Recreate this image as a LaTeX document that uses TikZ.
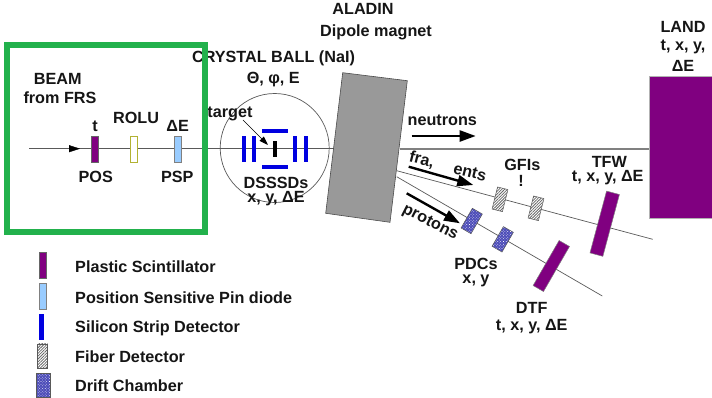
\documentclass[tikz,border=0pt]{standalone}
\usepackage{fontspec}
\setmainfont{Liberation Sans}
\usetikzlibrary{arrows.meta,patterns.meta}
\definecolor{plum}{HTML}{800080}
\definecolor{frameg}{HTML}{22B14C}
\definecolor{pspblue}{HTML}{99CCFF}
\definecolor{sidet}{HTML}{0000E0}
\definecolor{inkc}{HTML}{151515}
\tikzset{
  x=1pt,y=-1pt,
  lbl/.style={inner sep=0,font=\fontsize{16.2}{18}\selectfont\bfseries,text=inkc},
  legendlbl/.style={lbl,anchor=west},
  box/.style={inner sep=0,outer sep=0,minimum width=#1},
  box/.default=7pt,
  plastic/.style={draw=black!60,fill=plum,line width=.7pt},
  pspdet/.style={draw=black!50,fill=pspblue,line width=.7pt},
  sidetector/.style={fill=sidet,draw=none},
  fiber/.style={draw=black!65,line width=.5pt,preaction={fill=white},pattern={Lines[angle=45,distance=2pt,line width=.8pt]},pattern color=black!60},
  drift/.style={draw=black!65,line width=.5pt,preaction={fill=blue!60!black!70},pattern={Dots[angle=45,distance=2pt,radius=.45pt]},pattern color=white},
  ray/.style={draw=black!65,line width=.7pt},
  bigarrow/.style={line width=2.4pt,black,-{Triangle[length=16pt,width=11pt]}},
}
\begin{document}
\begin{tikzpicture}
\useasboundingbox (0,0) rectangle (712,397);
% coordinates
\coordinate (bs) at (29,148.7);
\coordinate (ba) at (80,148.7);
\coordinate (me) at (372,148.7);
\coordinate (ne) at (400,149);
\coordinate (fs) at (396.7,170.7);
\coordinate (fe) at (652.7,239.3);
\coordinate (ps) at (396.7,176.7);
\coordinate (pe) at (602.3,296);
\coordinate (bm) at (70,148.7);
% lines
\draw[ray] (bs) -- (me);
\draw[black,-{Triangle[length=11pt,width=7pt]}] (bm) -- (ba);
\node[draw=black!65,line width=.7pt,circle,minimum size=109pt,inner sep=0] (ball) at (274.7,148) {};
\draw[ray] (fs) -- (fe);
\draw[ray] (ps) -- (pe);
% magnet
\filldraw[fill=black!40,draw=black!70,line width=.6pt] (342.7,72.7) -- (407.3,80.7) -- (390,222.3) -- (325.7,213.3) -- cycle;
% LAND
\node[inner sep=0,outer sep=0,minimum width=63pt,minimum height=141.6pt,fill=plum,draw=black!30,line width=.5pt,anchor=north west] (land) at (649.3,76.7) {};
\draw[draw=black!50,line width=1.4pt] (ne) -- (land.west |- ne);
% beam detectors
\node[box,minimum height=26pt,plastic] (pos) at (95,149) {};
\node[box,minimum height=26pt,draw={rgb,1:red,.7;green,.7;blue,.2},fill=white,line width=.8pt] (rolu) at (133.5,149) {};
\node[box,minimum height=26pt,pspdet] (psp) at (177.7,149) {};
% silicon
\node[box=4pt,minimum height=26pt,sidetector] (s1) at (243.5,149) {};
\node[box=4pt,minimum height=26pt,sidetector] (s2) at (253.5,149) {};
\node[box=4pt,minimum height=26pt,sidetector] (s3) at (295,149) {};
\node[box=4pt,minimum height=26pt,sidetector] (s4) at (305.5,149) {};
\node[box=26pt,minimum height=4.3pt,sidetector] (s5) at (274.5,130.8) {};
\node[box=26pt,minimum height=4.3pt,sidetector] (s6) at (274.5,166.8) {};
\node[box=4pt,minimum height=16pt,fill=black] (tgt) at (274.5,149) {};
% rotated detectors
\node[box=10.7pt,minimum height=22.7pt,fiber,rotate=-14] (g1) at (500,199.3) {};
\node[box=10.7pt,minimum height=22.7pt,fiber,rotate=-14] (g2) at (536,208.3) {};
\node[box=11.5pt,minimum height=22.7pt,drift,rotate=-30] (d1) at (471.7,221) {};
\node[box=11.5pt,minimum height=22.7pt,drift,rotate=-30] (d2) at (502.7,239.3) {};
\node[box=13.3pt,minimum height=64pt,fill=plum,draw=black!50,line width=.5pt,rotate=-15] (tfw) at (604.7,223.7) {};
\node[box=12pt,minimum height=52pt,fill=plum,draw=black!50,line width=.5pt,rotate=-30] (dtf) at (551.3,266) {};
% arrows
\coordinate (na) at (411.7,136); \coordinate (nb) at (475.7,136);
\coordinate (fa) at (408.7,166.7); \coordinate (fb) at (473.3,185);
\coordinate (pa) at (406.7,193.3); \coordinate (pb) at (460,223.3);
\draw[bigarrow] (na) -- (nb);
\draw[bigarrow] (fa) -- (fb);
\draw[bigarrow] (pa) -- (pb);
% labels
\node[lbl] (l1) at (57.7,79) {BEAM};
\node[lbl] (l2) at (60,97.3) {from FRS};
\node[lbl] (l3) at (95,126) {t};
\node[lbl] (l4) at (136,118.3) {ROLU};
\node[lbl] (l5) at (177.7,126) {ΔE};
\node[lbl] (l6) at (95.7,177.3) {POS};
\node[lbl] (l7) at (177.3,177.3) {PSP};
\node[lbl] (l8) at (273.5,58.3) {CRYSTAL BALL (NaI)};
\node[lbl] (l9) at (273.3,79.3) {Θ, φ, E};
\node[lbl] (l10) at (230,114) {target};
\node[lbl] (l11) at (276,182.7) {DSSSDs};
\node[lbl] (l12) at (276,198.3) {x, y, ΔE};
\node[lbl] (l13) at (363,9) {ALADIN};
\node[lbl] (l14) at (376,32) {Dipole magnet};
\node[lbl] (l15) at (683,27) {LAND};
\node[lbl] (l16) at (683,47) {t, x, y,};
\node[lbl] (l17) at (683,66) {ΔE};
\node[lbl] (l18) at (442.3,120.3) {neutrons};
\node[lbl,rotate=-14] (l19) at (421.7,160) {fra,};
\node[lbl,rotate=-14] (l20) at (470,172.3) {ents};
\node[lbl,rotate=-27] (l21) at (430,222.7) {protons};
\node[lbl] (l22) at (522.3,165.3) {GFIs};
\node[lbl] (l23) at (521,180.7) {!};
\node[lbl] (l24) at (609.3,161.7) {TFW};
\node[lbl] (l25) at (607.7,177.3) {t, x, y, ΔE};
\node[lbl] (l26) at (476,264.3) {PDCs};
\node[lbl] (l27) at (476,281) {x, y};
\node[lbl] (l28) at (531.7,308.3) {DTF};
\node[lbl] (l29) at (531.7,326.7) {t, x, y, ΔE};
\coordinate (ta) at (243,120);
\draw[black,line width=.7pt,-{Triangle[length=9pt,width=6pt]}] (ta) -- (268,145);
% legend
\node[box,minimum height=26pt,plastic] (k1) at (42.8,265.3) {};
\node[box,minimum height=26pt,pspdet] (k2) at (42.8,296.3) {};
\node[box=4.7pt,minimum height=26pt,sidetector] (k3) at (41.6,327) {};
\node[box=10pt,minimum height=24.7pt,fiber] (k4) at (42.7,356.3) {};
\node[box=13.3pt,minimum height=24pt,drift] (k5) at (43.3,385) {};
\node[legendlbl] (t1) at (75,266.7) {Plastic Scintillator};
\node[legendlbl] (t2) at (75,298) {Position Sensitive Pin diode};
\node[legendlbl] (t3) at (75,328.5) {Silicon Strip Detector};
\node[legendlbl] (t4) at (75,357.2) {Fiber Detector};
\node[legendlbl] (t5) at (75,385.5) {Drift Chamber};
% frame
\node[draw=frameg,line width=6pt,inner sep=0,outer sep=0,minimum width=197.5pt,minimum height=187pt,anchor=north west] (frame) at (7,44.5) {};
\end{tikzpicture}
\end{document}
